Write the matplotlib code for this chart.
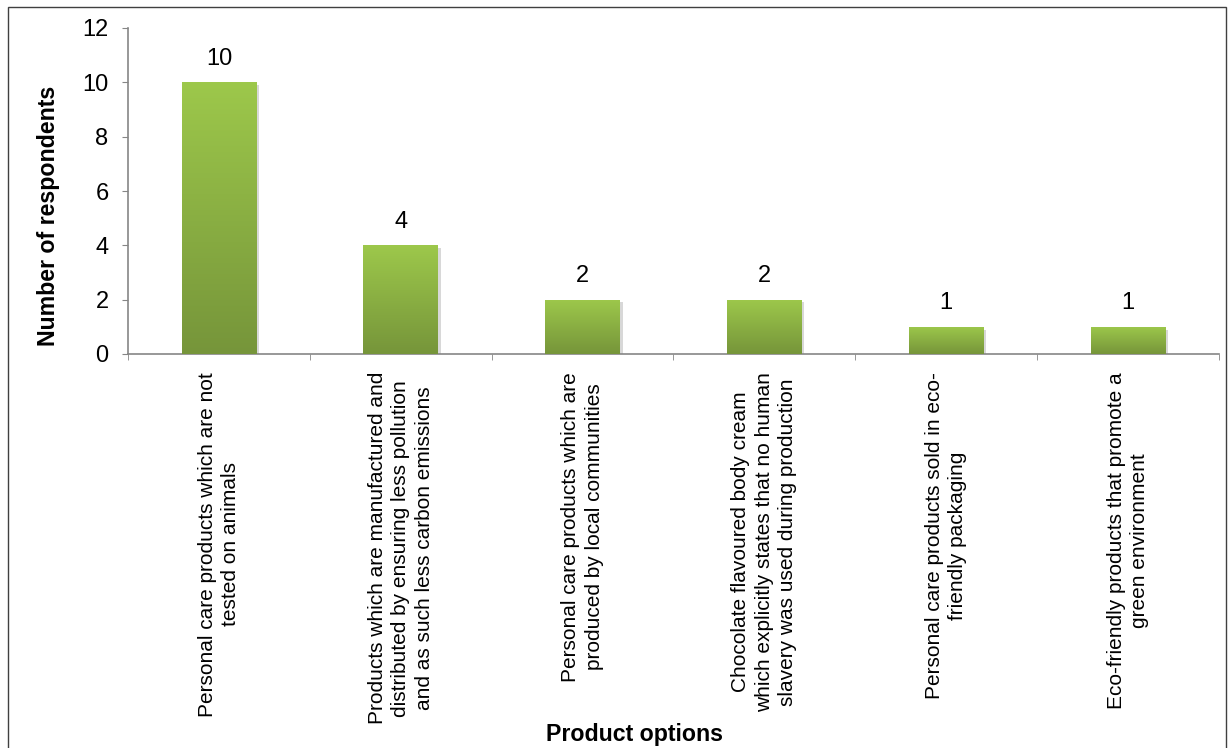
import numpy as np
import matplotlib.pyplot as plt
from matplotlib.colors import LinearSegmentedColormap
from matplotlib.patches import Rectangle
import matplotlib.patheffects as pe

plt.rcParams['font.family'] = ['Liberation Sans', 'DejaVu Sans']

# survey answers
products = [
    "Personal care products which are not\ntested on animals",
    "Products which are manufactured and\ndistributed by ensuring less pollution\nand as such less carbon emissions",
    "Personal care products which are\nproduced by local communities",
    "Chocolate flavoured body cream\nwhich explicitly states that no human\nslavery was used during production",
    "Personal care products sold in eco-\nfriendly packaging",
    "Eco-friendly products that promote a\ngreen environment",
]
respondents = [10, 4, 2, 2, 1, 1]
y_ticks = [0, 2, 4, 6, 8, 10, 12]

axis_grey = '#868686'
green_grad = LinearSegmentedColormap.from_list('grn', ['#76953a', '#9dc84b'])

fig = plt.figure(figsize=(12.28, 7.48), dpi=100)
ax = fig.add_axes([128 / 1228, 1 - 354 / 748, 1091 / 1228, 326 / 748])

x = np.arange(len(products))
bars = ax.bar(x, respondents, width=0.41, color='#86a940', zorder=2,
              path_effects=[pe.SimplePatchShadow(offset=(2, -2), alpha=0.3, shadow_rgbFace='#7f7f7f'),
                            pe.Normal()])

# vertical gradient fill, light at the top, dark at the bottom of each bar
grad = np.linspace(0, 1, 256).reshape(-1, 1)
for b in bars:
    x0, w, h = b.get_x(), b.get_width(), b.get_height()
    im = ax.imshow(grad, cmap=green_grad, origin='lower', aspect='auto',
                   extent=[x0, x0 + w, 0, h], zorder=3, interpolation='bilinear')
    im.set_clip_path(b)

for xi, v in zip(x, respondents):
    ax.annotate(str(v), (xi, v), xytext=(0, 9), textcoords='offset points',
                ha='center', va='bottom', fontsize=17, color='black')

ax.set_xlim(-0.5, len(products) - 0.5)
ax.set_ylim(0, 12)
ax.set_yticks(y_ticks)
ax.tick_params(axis='y', labelsize=17, length=4, color=axis_grey, pad=10)

ax.set_xticks(x)
ax.set_xticklabels(products, rotation=90, fontsize=15, ha='center', va='top',
                   multialignment='center', linespacing=1.3)
ax.set_xticks(np.arange(len(products) + 1) - 0.5, minor=True)
ax.tick_params(axis='x', which='major', length=0, pad=13)
ax.tick_params(axis='x', which='minor', length=4, color=axis_grey)

for s in ['top', 'right']:
    ax.spines[s].set_visible(False)
for s in ['left', 'bottom']:
    ax.spines[s].set_color(axis_grey)
    ax.spines[s].set_linewidth(1.2)

fig.text(49 / 1228, 1 - 216 / 748, 'Number of respondents', rotation=90,
         ha='center', va='center', fontsize=16.7, fontweight='bold')
fig.text(634 / 1228, 1 - 734 / 748, 'Product options',
         ha='center', va='center', fontsize=16.7, fontweight='bold')

# outer chart border
fig.patches.append(Rectangle((8 / 1228, -0.01), 1218 / 1228, 1.01 - 7 / 748,
                             transform=fig.transFigure, fill=False,
                             edgecolor='#404040', linewidth=1))

fig.savefig('out.png', dpi=100, facecolor='white')
